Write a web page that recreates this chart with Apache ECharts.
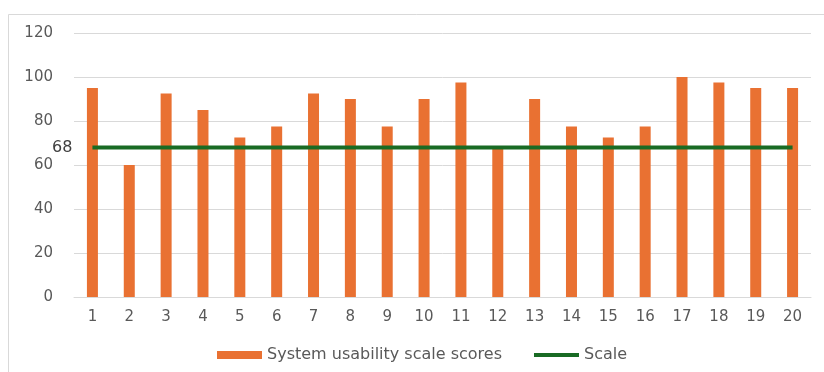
<!DOCTYPE html>
<html>
<head>
<meta charset="utf-8">
<style>
  html, body { margin: 0; padding: 0; background: #fff; }
  #chart { width: 824px; height: 372px; }
</style>
<script src="https://cdn.jsdelivr.net/npm/echarts@6/dist/echarts.min.js"></script>
</head>
<body>
<div id="chart"></div>
<script>
// Participants 1–20
const participants = ['1','2','3','4','5','6','7','8','9','10','11','12','13','14','15','16','17','18','19','20'];
// SUS score per participant
const susScores = [95, 60, 92.5, 85, 72.5, 77.5, 92.5, 90, 77.5, 90, 97.5, 67.5, 90, 77.5, 72.5, 77.5, 100, 97.5, 95, 95];
// Benchmark SUS value drawn as a flat reference line
const benchmark = 68;
const benchmarkLine = participants.map(() => benchmark);

const FONT = '"DejaVu Sans", Verdana, sans-serif';
const chart = echarts.init(document.getElementById('chart'), null, { renderer: 'canvas' });

chart.setOption({
  animation: false,
  backgroundColor: '#ffffff',
  textStyle: { fontFamily: FONT },
  graphic: [{
    type: 'rect',
    shape: { x: 8.5, y: 14.5, width: 900, height: 500 },
    style: { fill: 'none', stroke: '#d9d9d9', lineWidth: 1 },
    silent: true,
    z: -1
  }],
  grid: { left: 74, right: 13, top: 33, bottom: 75, containLabel: false },
  legend: {
    left: 212,
    top: 342,
    itemWidth: 45,
    itemHeight: 8,
    itemGap: 32,
    textStyle: { fontFamily: FONT, fontSize: 16, color: '#595959' },
    data: [
      { name: 'System usability scale scores', icon: 'rect' },
      { name: 'Scale', icon: 'path://M0,0 L45,0 L45,4 L0,4 Z', itemStyle: { color: '#196B24' } }
    ]
  },
  xAxis: {
    type: 'category',
    data: participants,
    axisLine: { show: true, lineStyle: { color: '#d9d9d9', width: 1 } },
    axisTick: { show: false },
    axisLabel: { color: '#595959', fontSize: 15, fontFamily: FONT, margin: 13 },
    splitLine: { show: false }
  },
  yAxis: {
    type: 'value',
    min: 0,
    max: 120,
    interval: 20,
    axisLine: { show: false },
    axisTick: { show: false },
    axisLabel: { color: '#595959', fontSize: 15, fontFamily: FONT, margin: 21 },
    splitLine: { lineStyle: { color: '#d9d9d9', width: 1 } }
  },
  series: [
    {
      name: 'System usability scale scores',
      type: 'bar',
      data: susScores,
      barWidth: 11,
      itemStyle: { color: '#E97132' },
      z: 2
    },
    {
      name: 'Scale',
      type: 'line',
      data: benchmarkLine,
      symbol: 'none',
      lineStyle: { color: '#196B24', width: 4 },
      itemStyle: { color: '#196B24' },
      markPoint: {
        symbol: 'circle',
        symbolSize: 0,
        silent: true,
        data: [{
          coord: [participants[0], benchmarkLine[0]],
          value: benchmarkLine[0],
          label: {
            show: true,
            position: 'left',
            distance: 20,
            formatter: '{c}',
            color: '#404040',
            fontSize: 16,
            fontFamily: FONT
          }
        }]
      },
      z: 3
    }
  ]
});
</script>
</body>
</html>
